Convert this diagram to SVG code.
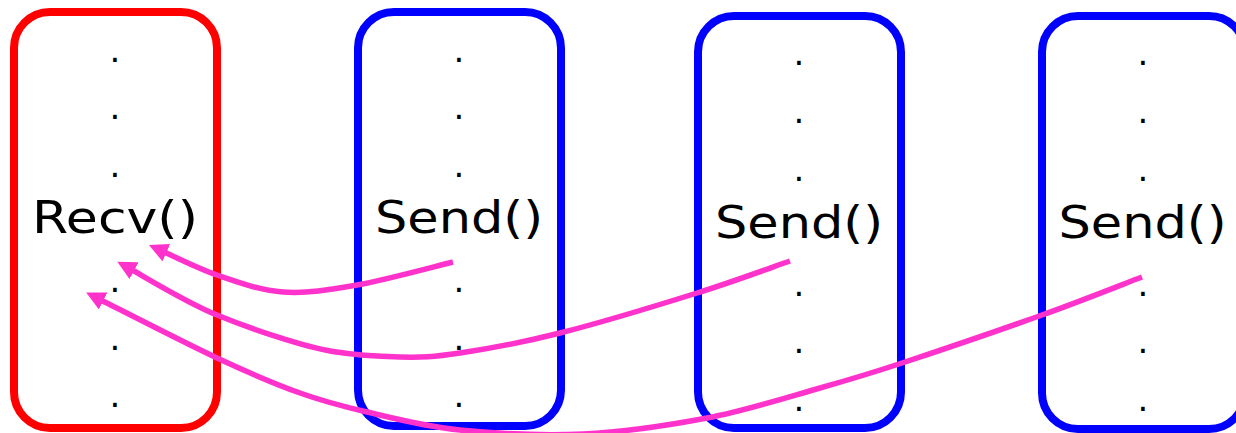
<svg xmlns="http://www.w3.org/2000/svg" width="1236" height="433" viewBox="0 0 1236 433">
<style>
.box{fill:none;stroke-width:8}
.recv{stroke:#ff0000}
.send{stroke:#0000ff}
.lbl{font-family:"DejaVu Sans","Liberation Sans",sans-serif;font-size:45px;fill:#000;text-anchor:middle}
.dot{font-family:"DejaVu Sans","Liberation Sans",sans-serif;font-size:34px;fill:#000;text-anchor:middle}
.arr{fill:none;stroke:#ff33cc;stroke-width:5.5;marker-end:url(#head)}
</style>
<defs>
<marker id="head" markerUnits="userSpaceOnUse" viewBox="0 0 19 19" markerWidth="19" markerHeight="19" refX="8" refY="9.5" orient="auto">
<path d="M0,0 L19,9.5 L0,19 Z" fill="#ff33cc"/>
</marker>
</defs>
<rect width="1236" height="433" fill="#fff"/>
<g id="node-recv">
<rect class="box recv" x="14" y="12" width="203" height="416" rx="36"/>
<text class="dot" x="115" y="62">.</text>
<text class="dot" x="115" y="119">.</text>
<text class="dot" x="115" y="177">.</text>
<text class="lbl" x="115" y="233" textLength="166" lengthAdjust="spacingAndGlyphs">Recv()</text>
<text class="dot" x="115" y="292">.</text>
<text class="dot" x="115" y="350">.</text>
<text class="dot" x="115" y="407">.</text>
</g>
<g id="node-send1">
<rect class="box send" x="358" y="12" width="203" height="414" rx="36"/>
<text class="dot" x="459" y="62">.</text>
<text class="dot" x="459" y="119">.</text>
<text class="dot" x="459" y="177">.</text>
<text class="lbl" x="459" y="233" textLength="168" lengthAdjust="spacingAndGlyphs">Send()</text>
<text class="dot" x="459" y="292">.</text>
<text class="dot" x="459" y="350">.</text>
<text class="dot" x="459" y="407">.</text>
</g>
<g id="node-send2">
<rect class="box send" x="698" y="16" width="203" height="412" rx="36"/>
<text class="dot" x="799" y="65">.</text>
<text class="dot" x="799" y="123">.</text>
<text class="dot" x="799" y="181">.</text>
<text class="lbl" x="799" y="238" textLength="168" lengthAdjust="spacingAndGlyphs">Send()</text>
<text class="dot" x="799" y="296">.</text>
<text class="dot" x="799" y="353">.</text>
<text class="dot" x="799" y="411">.</text>
</g>
<g id="node-send3">
<rect class="box send" x="1042" y="16" width="203" height="413" rx="36"/>
<text class="dot" x="1143" y="65">.</text>
<text class="dot" x="1143" y="123">.</text>
<text class="dot" x="1143" y="181">.</text>
<text class="lbl" x="1142.5" y="238" textLength="168" lengthAdjust="spacingAndGlyphs">Send()</text>
<text class="dot" x="1143" y="296">.</text>
<text class="dot" x="1143" y="353">.</text>
<text class="dot" x="1143" y="411">.</text>
</g>
<g id="connectors">
<path class="arr" d="M453,262 C437,265.8 385.3,280 357,285 C328.7,290 306.3,293.7 283,292 C259.7,290.3 237.7,282.1 217,275 C196.3,267.9 168.7,253.75 159,249.5"/>
<path class="arr" d="M790,261 C774.5,266.3 735.3,281 697,293 C658.7,305 599.5,323 560,333 C520.5,343 486.7,349 460,353 C433.3,357 421.2,357.5 400,357 C378.8,356.5 358,355.5 333,351.5 C305,347 251.3,329.2 217,315 C182.7,300.8 142,275 127,267"/>
<path class="arr" d="M1142,277 C1125.3,283.3 1082,300.7 1042,315 C1002,329.3 939,350.8 902,363 C865,375.2 852.5,378.8 820,388 C787.5,397.2 746.5,410.5 707,418 C667.5,425.5 624.2,432 583,434 C541.8,436 496,433.5 460,430 C424,426.5 393.7,418.2 367,412 C340.3,405.8 325,402 300,393 C275,384 251,373.9 217,358 C183,342.1 116.2,307.6 96,297.5"/>
</g>
</svg>
